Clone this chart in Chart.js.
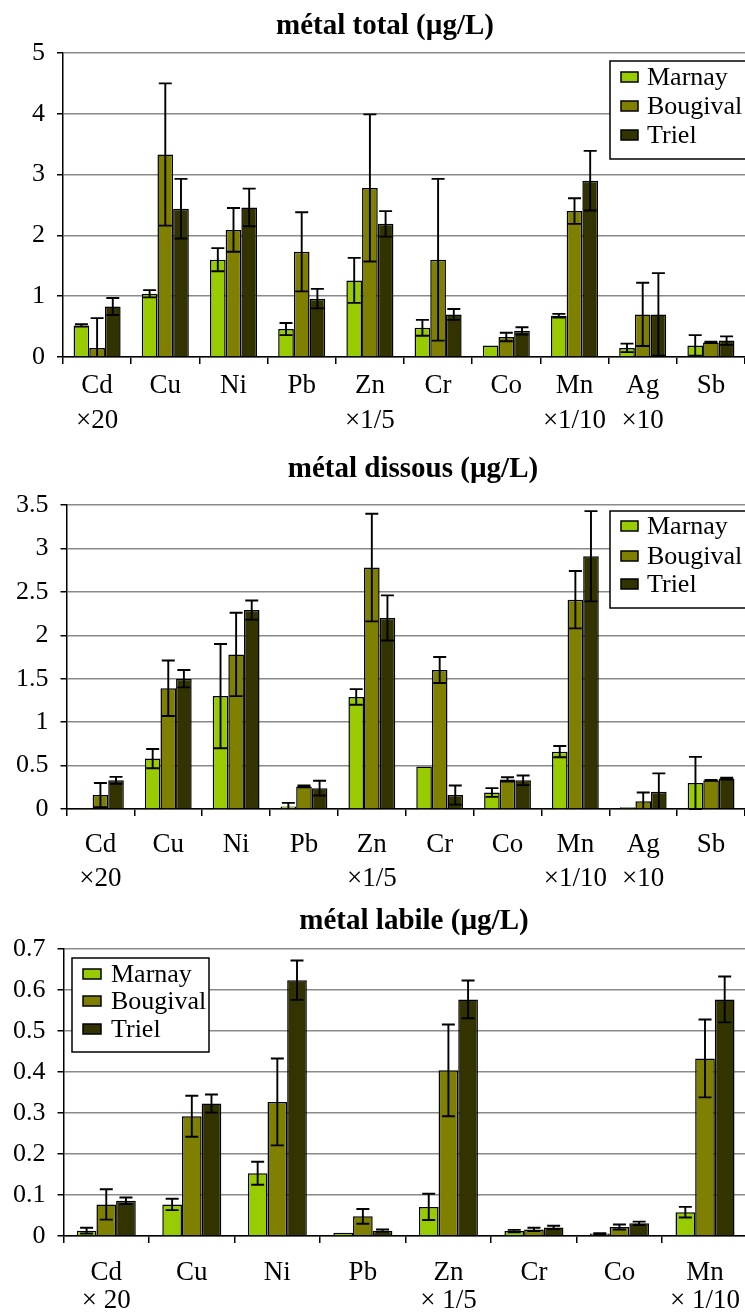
<!DOCTYPE html>
<html><head><meta charset="utf-8">
<script src="https://cdn.jsdelivr.net/npm/chart.js@4"></script>
<style>
html,body{margin:0;padding:0;background:#fff;overflow:hidden;width:745px;height:1312px;position:relative}
canvas{position:absolute;left:0}
</style></head><body>
<canvas id="c1" width="745" height="440" style="top:0px"></canvas>
<canvas id="c2" width="745" height="450" style="top:440px"></canvas>
<canvas id="c3" width="756" height="422" style="top:890px"></canvas>
<script>
// ---------- DATA ----------
const seriesNames = ['Marnay', 'Bougival', 'Triel'];

const categoriesTotal = [['Cd','×20'],['Cu'],['Ni'],['Pb'],['Zn','×1/5'],['Cr'],['Co'],['Mn','×1/10'],['Ag','×10'],['Sb']];
const totalMarnay      = [0.52, 1.04, 1.60, 0.46, 1.26, 0.48, 0.19, 0.68, 0.15, 0.19];
const totalMarnayErr   = [0.02, 0.06, 0.19, 0.10, 0.37, 0.13, 0.00, 0.03, 0.07, 0.17];
const totalBougival    = [0.15, 3.33, 2.09, 1.73, 2.78, 1.60, 0.33, 2.40, 0.70, 0.24];
const totalBougivalErr = [0.49, 1.17, 0.36, 0.65, 1.21, 1.33, 0.07, 0.21, 0.52, 0.01];
const totalTriel       = [0.83, 2.44, 2.46, 0.96, 2.19, 0.70, 0.43, 2.90, 0.70, 0.27];
const totalTrielErr    = [0.14, 0.49, 0.31, 0.16, 0.21, 0.09, 0.06, 0.49, 0.68, 0.07];
const totalTicks = {min: 0, max: 5, step: 0.5};

const categoriesDiss = [['Cd','×20'],['Cu'],['Ni'],['Pb'],['Zn','×1/5'],['Cr'],['Co'],['Mn','×1/10'],['Ag','×10'],['Sb']];
const dissMarnay      = [0.005, 0.58, 1.30, 0.03, 1.29, 0.49, 0.19, 0.66, 0.02, 0.30];
const dissMarnayErr   = [0.00, 0.11, 0.60, 0.04, 0.09, 0.00, 0.05, 0.065, 0.00, 0.30];
const dissBougival    = [0.16, 1.39, 1.78, 0.26, 2.78, 1.60, 0.34, 2.41, 0.09, 0.33];
const dissBougivalErr = [0.14, 0.32, 0.48, 0.01, 0.62, 0.15, 0.025, 0.33, 0.10, 0.005];
const dissTriel       = [0.33, 1.50, 2.29, 0.24, 2.20, 0.16, 0.33, 2.91, 0.20, 0.35];
const dissTrielErr    = [0.04, 0.10, 0.11, 0.085, 0.26, 0.11, 0.055, 0.52, 0.21, 0.01];
const dissTicks = {min: 0, max: 3.5, step: 0.5};

const categoriesLab = [['Cd','× 20'],['Cu'],['Ni'],['Pb'],['Zn','× 1/5'],['Cr'],['Co'],['Mn','× 1/10']];
const labMarnay      = [0.013, 0.077, 0.153, 0.008, 0.071, 0.012, 0.006, 0.058];
const labMarnayErr   = [0.007, 0.014, 0.028, 0.000, 0.032, 0.003, 0.001, 0.013];
const labBougival    = [0.077, 0.292, 0.327, 0.048, 0.404, 0.016, 0.022, 0.433];
const labBougivalErr = [0.037, 0.050, 0.106, 0.018, 0.112, 0.004, 0.006, 0.095];
const labTriel       = [0.086, 0.323, 0.624, 0.013, 0.577, 0.021, 0.031, 0.577];
const labTrielErr    = [0.008, 0.022, 0.048, 0.003, 0.046, 0.004, 0.004, 0.056];
const labTicks = {min: 0, max: 0.7, step: 0.1};

const titles = ['métal total (µg/L)', 'métal dissous (µg/L)', 'métal labile (µg/L)'];

// ---------- STYLE ----------
const FONT = '"Liberation Serif", "Times New Roman", serif';
const colors = ['#99CC00', '#808000', '#333300'];

const errorBars = {
  id: 'errorBars',
  afterDatasetsDraw(chart) {
    const ctx = chart.ctx, ys = chart.scales.y, cap = 6.5;
    ctx.save();
    ctx.strokeStyle = '#000';
    ctx.lineWidth = 1.9;
    chart.data.datasets.forEach((ds, i) => {
      const meta = chart.getDatasetMeta(i);
      meta.data.forEach((el, j) => {
        const v = ds.data[j], e = ds.errors[j];
        if (!e) return;
        const hi = ys.getPixelForValue(v + e);
        const loV = v - e;
        const lo = ys.getPixelForValue(Math.max(loV, 0));
        const x = el.x;
        ctx.beginPath();
        ctx.moveTo(x, hi); ctx.lineTo(x, lo);
        ctx.moveTo(x - cap, hi); ctx.lineTo(x + cap, hi);
        if (loV >= 0) { ctx.moveTo(x - cap, lo); ctx.lineTo(x + cap, lo); }
        ctx.stroke();
      });
    });
    ctx.restore();
  }
};

const posTitle = {
  id: 'posTitle',
  afterDraw(chart, args, o) {
    const ctx = chart.ctx;
    ctx.save();
    ctx.font = 'bold ' + o.size + 'px ' + FONT;
    ctx.fillStyle = '#000';
    ctx.textAlign = 'center';
    ctx.textBaseline = 'middle';
    ctx.fillText(o.text, o.x, o.y);
    ctx.restore();
  }
};

const boxLegend = {
  id: 'boxLegend',
  afterDraw(chart, args, o) {
    const ctx = chart.ctx;
    ctx.save();
    ctx.fillStyle = '#fff';
    ctx.fillRect(o.x, o.y, o.w, o.h);
    ctx.strokeStyle = '#000';
    ctx.lineWidth = 1.5;
    ctx.strokeRect(o.x, o.y, o.w, o.h);
    ctx.font = o.size + 'px ' + FONT;
    ctx.textBaseline = 'middle';
    ctx.textAlign = 'left';
    chart.data.datasets.forEach((ds, i) => {
      const cy = o.rows[i];
      ctx.fillStyle = ds.backgroundColor;
      ctx.fillRect(o.sx, cy - o.sh / 2, o.sw, o.sh);
      ctx.strokeRect(o.sx, cy - o.sh / 2, o.sw, o.sh);
      ctx.fillStyle = '#000';
      ctx.fillText(ds.label, o.tx, cy + 1);
    });
    ctx.restore();
  }
};

function fmt(v) { return String(Math.round(v * 100) / 100); }

function makeChart(id, cats, vals, errs, ticks, L) {
  const datasets = vals.map((d, i) => ({
    label: seriesNames[i],
    data: d,
    errors: errs[i],
    backgroundColor: colors[i],
    borderColor: '#000',
    borderWidth: 1.5,
    categoryPercentage: 0.69,
    barPercentage: 1.0
  }));
  return new Chart(document.getElementById(id), {
    type: 'bar',
    data: { labels: cats, datasets },
    plugins: [errorBars, posTitle, boxLegend],
    options: {
      responsive: false,
      animation: false,
      devicePixelRatio: 1,
      layout: { padding: { top: L.padTop, left: 0, right: 0, bottom: 0 } },
      plugins: {
        legend: { display: false },
        tooltip: { enabled: false },
        title: { display: false },
        posTitle: L.title,
        boxLegend: L.legend
      },
      scales: {
        x: {
          type: 'category',
          offset: true,
          afterFit(s) { s.height = L.xh; },
          grid: { offset: true, drawOnChartArea: false, color: '#000', lineWidth: 1.5, tickLength: 7 },
          border: { color: '#000', width: 1.5 },
          ticks: { color: '#000', padding: L.xpad, maxRotation: 0, autoSkip: false,
                   font: { family: FONT, size: 27, lineHeight: L.xlh + 'px' } }
        },
        y: {
          min: ticks.min, max: ticks.max,
          afterFit(s) { s.width = L.yw; },
          grid: { color: '#8a8a8a', lineWidth: 1.5, tickColor: '#000', tickLength: 6 },
          border: { color: '#000', width: 1.5 },
          ticks: { stepSize: ticks.step, color: '#000', padding: 12, callback: fmt,
                   font: { family: FONT, size: 26 } }
        }
      }
    }
  });
}

makeChart('c1', categoriesTotal,
  [totalMarnay, totalBougival, totalTriel],
  [totalMarnayErr, totalBougivalErr, totalTrielErr], totalTicks,
  { padTop: 53, xh: 83, xpad: 4, xlh: 35, yw: 63,
    title: { text: titles[0], x: 385, y: 27, size: 29 },
    legend: { x: 610, y: 61, w: 145, h: 98, rows: [77, 106, 135], sx: 621, sw: 17, sh: 10, tx: 647, size: 26 } });

makeChart('c2', categoriesDiss,
  [dissMarnay, dissBougival, dissTriel],
  [dissMarnayErr, dissBougivalErr, dissTrielErr], dissTicks,
  { padTop: 65, xh: 81, xpad: 12, xlh: 34, yw: 66.5,
    title: { text: titles[1], x: 413, y: 30, size: 29 },
    legend: { x: 610, y: 71, w: 145, h: 97, rows: [86, 116, 144], sx: 621, sw: 17, sh: 10, tx: 647, size: 26 } });

makeChart('c3', categoriesLab,
  [labMarnay, labBougival, labTriel],
  [labMarnayErr, labBougivalErr, labTrielErr], labTicks,
  { padTop: 59, xh: 76, xpad: 16, xlh: 28, yw: 63.5,
    title: { text: titles[2], x: 414, y: 32, size: 29 },
    legend: { x: 72, y: 68, w: 137, h: 94, rows: [84, 111, 139], sx: 83, sw: 18, sh: 10, tx: 111, size: 26 } });
</script>
</body></html>
